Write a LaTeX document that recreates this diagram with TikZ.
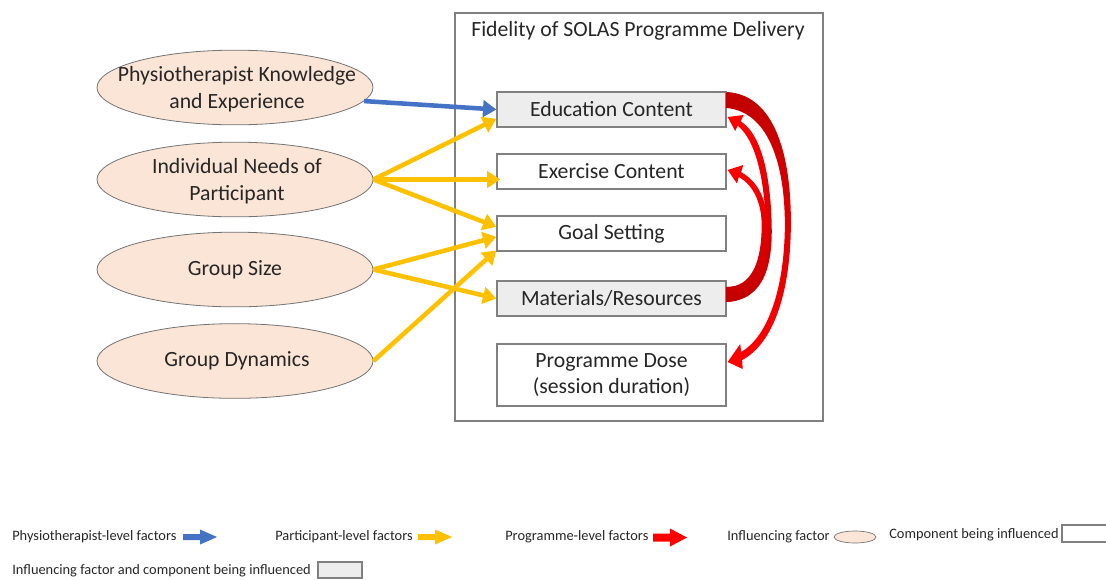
\documentclass[tikz,border=0pt]{standalone}
\usepackage{fontspec}
\setmainfont{Carlito}
\usetikzlibrary{arrows.meta,shapes.geometric}
\definecolor{peach}{HTML}{FBE5D6}
\definecolor{boxgray}{HTML}{EDEDED}
\definecolor{edgegray}{HTML}{808080}
\definecolor{ylw}{HTML}{FFC000}
\definecolor{blu}{HTML}{4472C4}
\definecolor{dred}{HTML}{C00000}
\definecolor{bred}{HTML}{FF0000}
\definecolor{txt}{HTML}{262626}
\begin{document}
\begin{tikzpicture}[x=0.75pt,y=-0.75pt,
  factor/.style={ellipse, draw=black!55, line width=0.6pt, fill=peach,
    minimum width=207pt, minimum height=56pt, inner sep=0pt},
  ftext/.style={align=center, inner sep=0pt, font=\fontsize{16.3}{20}\selectfont, text=txt},
  comp/.style={rectangle, draw=edgegray, line width=1pt, minimum width=171.75pt,
    minimum height=26.25pt, inner sep=0pt, align=center,
    font=\fontsize{16.3}{20}\selectfont, text=txt},
  grayfill/.style={fill=boxgray},
  conn/.style={line width=3.4pt, -{Triangle[length=10pt,width=12.5pt]}},
  lgtext/.style={anchor=west, inner sep=0pt, font=\fontsize{10.8}{13}\selectfont, text=txt},
]
\useasboundingbox (0,0) rectangle (1106,579);

% frame
\node[draw=edgegray, line width=0.8pt, minimum width=276pt, minimum height=306pt, inner sep=0pt] (frame) at (639,217) {};
\node[ftext] (title) at (638,31) {Fidelity of SOLAS Programme Delivery};

% factors
\node[factor] (e1) at (235,87.5) {};
\node[ftext] (e1t) at (237,89.5) {Physiotherapist Knowledge\\and Experience};
\node[factor] (e2) at (235,179.5) {};
\node[ftext] (e2t) at (237,181) {Individual Needs of\\Participant};
\node[factor] (e3) at (235,269.5) {};
\node[ftext] (e3t) at (235,269.5) {Group Size};
\node[factor] (e4) at (235,361) {};
\node[ftext] (e4t) at (237,361) {Group Dynamics};

% components
\node[comp, grayfill] (b1) at (611.5,109.5) {Education Content};
\node[comp] (b2) at (611.5,171.5) {Exercise Content};
\node[comp] (b3) at (611.5,233.5) {Goal Setting};
\node[comp, grayfill] (b4) at (611.5,298.5) {Materials/Resources};
\node[comp, minimum height=46.5pt] (b5) at (611.5,375) {Programme Dose\\(session duration)};

% connectors
\draw[conn, blu] (e1.-6) -- (b1.west);
\draw[conn, ylw] (e2.east) -- ([yshift=-7pt]b1.west);
\draw[conn, ylw] (e2.east) -- ([xshift=3pt,yshift=-6pt]b2.west);
\draw[conn, ylw] (e2.east) -- ([yshift=5pt]b3.west);
\draw[conn, ylw] (e3.east) -- ([yshift=-2.5pt]b3.west);
\draw[conn, ylw] (e3.east) -- (b4.west);
\draw[conn, ylw] (e4.east) -- ([yshift=1pt]b3.south west);

% programme-level curved arrows
\begin{scope}[shift={(b1.east)}]
\shade[top color=dred, middle color=dred!60!bred, bottom color=bred]
 (0,-17.5) .. controls (54,-14.5) and (66,60.5) .. (64,125.5)
 .. controls (62,190.5) and (44,235.5) .. (15.5,250.5)
 -- (16,259.5) -- (1,252.5) -- (13.5,234.5) -- (14.5,242.5)
 .. controls (39,228.5) and (56,185.5) .. (58,125.5)
 .. controls (60,60.5) and (44,2.5) .. (0,-1.5) -- cycle;
\end{scope}
\begin{scope}[shift={(b4.east)}]
\shade[top color=bred, bottom color=dred]
 (0,3.5) .. controls (39,1.5) and (46,-36.5) .. (45,-73.5)
 .. controls (44,-118.5) and (36,-163.5) .. (14,-177.2)
 -- (17,-183.5) -- (1,-181.5) -- (8.5,-167.5) -- (11,-172.8)
 .. controls (29,-158.5) and (38,-118.5) .. (39,-73.5)
 .. controls (40,-38.5) and (29,-11.5) .. (0,-11.5) -- cycle;
\shade[top color=bred, bottom color=dred]
 (0,3.5) .. controls (34,1.5) and (42,-36.5) .. (41,-73.5)
 .. controls (40,-98.5) and (32,-116.5) .. (14.5,-126.3)
 -- (16.5,-133.5) -- (1,-128.5) -- (10.3,-115) -- (12.2,-121.5)
 .. controls (28,-112.5) and (35,-93.5) .. (35,-73.5)
 .. controls (35,-38.5) and (26,-11.5) .. (0,-11.5) -- cycle;
\end{scope}

% legend
\node[lgtext] (l1) at (12,537) {Physiotherapist-level factors};
\fill[blu] (183,534) -- (200,534) -- (200,529.5) -- (217,537) -- (200,544.5) -- (200,540) -- (183,540) -- cycle;
\node[lgtext] (l2) at (275,537) {Participant-level factors};
\fill[ylw] (418,534) -- (435,534) -- (435,529.5) -- (452,537) -- (435,544.5) -- (435,540) -- (418,540) -- cycle;
\node[lgtext] (l3) at (505,537) {Programme-level factors};
\fill[bred] (653,533.5) -- (670,533.5) -- (670,528.5) -- (687,537.5) -- (670,546.5) -- (670,541.5) -- (653,541.5) -- cycle;
\node[lgtext] (l4) at (727,537) {Influencing factor};
\node[ellipse, draw=black!55, line width=0.5pt, fill=peach, minimum width=31.5pt, minimum height=9pt, inner sep=0pt] (le) at (855,537) {};
\node[lgtext] (l5) at (889,535) {Component being influenced};
\node[draw=edgegray, line width=0.8pt, minimum width=34.5pt, minimum height=12.75pt, inner sep=0pt] (lr1) at (1085,533.5) {};
\node[lgtext] (l6) at (12,571) {Influencing factor and component being influenced};
\node[draw=edgegray, line width=0.8pt, fill=boxgray, minimum width=33pt, minimum height=12pt, inner sep=0pt] (lr2) at (340,570) {};
\end{tikzpicture}
\end{document}
